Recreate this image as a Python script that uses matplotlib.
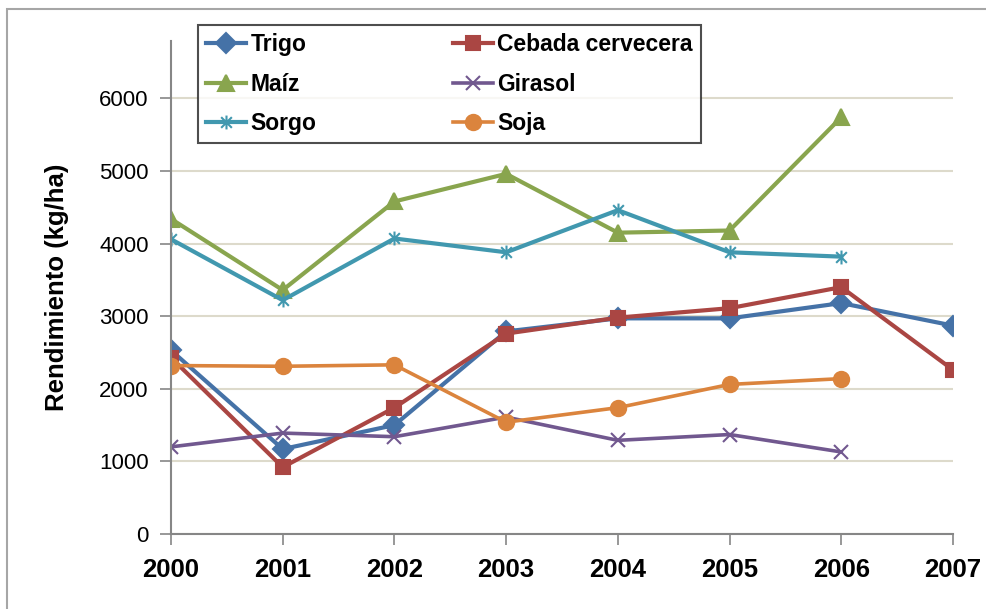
import numpy as np
import matplotlib.pyplot as plt
from matplotlib.path import Path
from matplotlib.patches import Rectangle

nan = np.nan
years = [2000, 2001, 2002, 2003, 2004, 2005, 2006, 2007]
trigo = [2530, 1170, 1500, 2790, 2970, 2970, 3180, 2870]
cebada = [2430, 920, 1740, 2760, 2980, 3110, 3400, 2260]
maiz = [4340, 3360, 4580, 4960, 4150, 4180, 5740, nan]
girasol = [1200, 1390, 1340, 1610, 1290, 1370, 1130, nan]
sorgo = [4060, 3220, 4070, 3880, 4460, 3880, 3820, nan]
soja = [2320, 2310, 2330, 1540, 1740, 2060, 2140, nan]

# Excel style asterisk: X with a vertical bar
star = Path([(-1, -1), (1, 1), (-1, 1), (1, -1), (0, -1.3), (0, 1.3)],
            [Path.MOVETO, Path.LINETO, Path.MOVETO, Path.LINETO, Path.MOVETO, Path.LINETO])

series = [
    ("Trigo", trigo, "#4572A7", "D", 10, 3.0),
    ("Cebada cervecera", cebada, "#AA4643", "s", 10.5, 3.0),
    ("Maíz", maiz, "#89A54E", "^", 11, 3.0),
    ("Girasol", girasol, "#71588F", "x", 10, 2.6),
    ("Sorgo", sorgo, "#4198AF", star, 10, 3.0),
    ("Soja", soja, "#DB843D", "o", 11, 2.6),
]

fig = plt.figure(figsize=(9.87, 6.09), dpi=100)
ax = fig.add_axes([171 / 987, 1 - 534 / 609, 782 / 987, 493 / 609])

x = np.arange(len(years))
lines = {}
for name, vals, col, mk, ms, lw in series:
    ln, = ax.plot(x, vals, color=col, lw=lw, marker=mk, ms=ms, mew=1.5,
                  mec=col, mfc=col, label=name, solid_joinstyle="miter")
    lines[name] = ln

ax.set_xlim(0, len(years) - 1)
ax.set_ylim(0, 6790)
ax.set_yticks(range(0, 7000, 1000))
ax.set_xticks(x)
ax.set_xticklabels([str(y) for y in years], fontsize=18.5, fontweight="bold",
                   family=["Liberation Sans Narrow", "Liberation Sans", "DejaVu Sans"])
for lab in ax.get_yticklabels():
    lab.set_family(["Liberation Sans", "DejaVu Sans"])
    lab.set_fontsize(16)
ax.tick_params(axis="x", length=8, width=1.2, color="#868686", pad=9)
ax.tick_params(axis="y", length=8, width=1.2, color="#868686", pad=8)

ax.grid(axis="y", color="#DDDACB", lw=1.5)
ax.set_axisbelow(True)
for s in ["top", "right"]:
    ax.spines[s].set_visible(False)
for s in ["left", "bottom"]:
    ax.spines[s].set_color("#868686")
    ax.spines[s].set_linewidth(1.5)

ax.set_ylabel("Rendimiento (kg/ha)", fontsize=18.5, fontweight="bold",
              family=["Liberation Sans", "DejaVu Sans"], labelpad=22)

# row-wise legend order (matplotlib fills by column)
order = ["Trigo", "Maíz", "Sorgo", "Cebada cervecera", "Girasol", "Soja"]
leg = ax.legend([lines[n] for n in order], order,
                loc="upper left", bbox_to_anchor=(0.0345, 0.789, 0.643, 0.243),
                mode="expand", ncol=2, frameon=True, fancybox=False,
                prop={"family": ["Liberation Sans", "DejaVu Sans"], "weight": "bold", "size": 16.5},
                handlelength=1.75, handletextpad=0.2, borderaxespad=0,
                labelspacing=0.72, borderpad=0.35, columnspacing=1.0)
leg.get_frame().set_edgecolor("#222222")
leg.get_frame().set_linewidth(1.5)

# chart area border
fig.patches.append(Rectangle((7 / 987, -0.1), 1.2, 1.1 - 9 / 609,
                             transform=fig.transFigure, fill=False,
                             edgecolor="#A6A6A6", lw=1.5))

fig.savefig("out.png", dpi=100)
